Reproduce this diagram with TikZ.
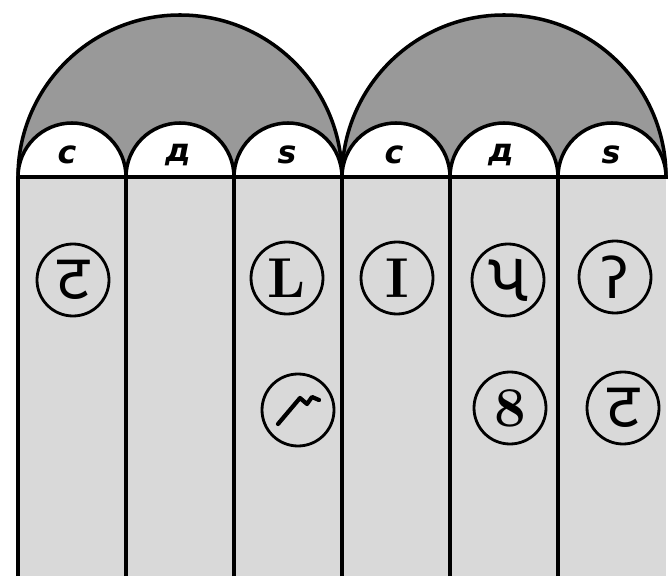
\documentclass[tikz,border=0pt]{standalone}
\usepackage{fontspec}
\newfontfamily\headfont{DejaVu Sans}
\newfontfamily\gujfont[Script=Gujarati]{Noto Sans Gujarati UI}
\newfontfamily\devfont[Script=Devanagari]{Noto Sans}

\begin{document}
\begin{tikzpicture}
    \tikzset{
        rule/.style={draw=black, line width=2pt},
        sign/.style={circle, draw, line width=1.6pt, minimum size=1.44cm, inner sep=0pt,
            font=\gujfont\fontsize{40}{40}\selectfont},
        head/.style={font=\headfont\bfseries\itshape\fontsize{18}{18}\selectfont}
    }
    \useasboundingbox (0,0) rectangle (13.4,11.52);
    % The light columns go first.
        \fill[black!15] (0.36,0) rectangle (13.32,7.98);
    % These are the two big arches.
        \filldraw[rule, fill=black!40] (0.36,7.98) arc (180:0:3.24) -- cycle;
        \filldraw[rule, fill=black!40] (6.84,7.98) arc (180:0:3.24) -- cycle;
    % The small arches with their heads.
        \filldraw[rule, fill=white] (0.36,7.98) arc (180:0:1.08) -- cycle;
        \filldraw[rule, fill=white] (2.52,7.98) arc (180:0:1.08) -- cycle;
        \filldraw[rule, fill=white] (4.68,7.98) arc (180:0:1.08) -- cycle;
        \filldraw[rule, fill=white] (6.84,7.98) arc (180:0:1.08) -- cycle;
        \filldraw[rule, fill=white] (9.00,7.98) arc (180:0:1.08) -- cycle;
        \filldraw[rule, fill=white] (11.16,7.98) arc (180:0:1.08) -- cycle;
        \node[head] (c1) at (1.34, 8.42) {c};
        \node[head] (d1) at (3.56, 8.42) {д};
        \node[head] (s1) at (5.74, 8.42) {s};
        \node[head] (c2) at (7.88, 8.42) {c};
        \node[head] (d2) at (10.02, 8.42) {д};
        \node[head] (s2) at (12.22, 8.42) {s};
    % Column rules, the left one is heavier.
        \draw[rule, line width=2.8pt] (0.36,0) -- (0.36,7.98);
        \draw[rule] (2.52,0) -- (2.52,7.98);
        \draw[rule] (4.68,0) -- (4.68,7.98);
        \draw[rule] (6.84,0) -- (6.84,7.98);
        \draw[rule] (9.00,0) -- (9.00,7.98);
        \draw[rule] (11.16,0) -- (11.16,7.98);
        \draw[rule] (0.36,7.98) -- (13.32,7.98);
    % Below nodes are the signs in the columns.
        \node[sign, font=\devfont\bfseries\fontsize{36}{36}\selectfont] (ta1) at (1.46, 5.92) {ट};
        \node[sign, font=\normalfont\bfseries\fontsize{32}{32}\selectfont] (ell) at (5.74, 5.96) {L};
        \node[sign] (zig) at (5.96, 3.32) {};
        \node[sign, font=\normalfont\bfseries\fontsize{32}{32}\selectfont] (one) at (7.94, 5.96) {I};
        \node[sign] (pa) at (10.16, 5.92) {પ};
        \node[sign, font=\headfont\fontsize{32}{32}\selectfont] (ra) at (12.30, 5.98) {ʔ};
        \node[sign, font=\normalfont\bfseries\fontsize{32}{32}\selectfont] (eight) at (10.20, 3.36) {8};
        \node[sign, font=\devfont\bfseries\fontsize{36}{36}\selectfont] (ta2) at (12.46, 3.36) {ट};
    % This draws the broken stroke.
        \draw[line width=2.4pt, line join=round, line cap=round]
            ([shift={(-0.40,-0.28)}]zig.center) -- ++(0.44,0.52) -- ++(0.14,-0.12) -- ++(0.10,0.14) -- ++(0.14,-0.06);
\end{tikzpicture}
\end{document}
